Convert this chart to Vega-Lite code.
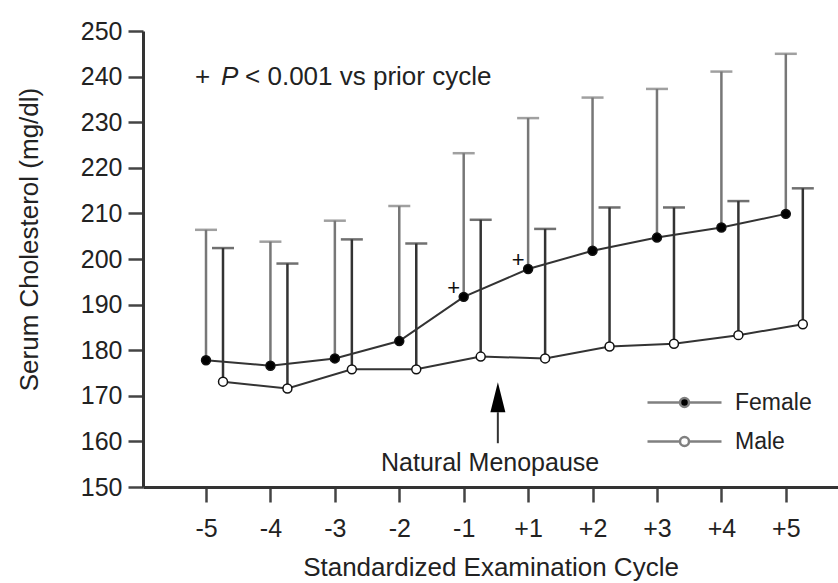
{
  "$schema": "https://vega.github.io/schema/vega-lite/v6.json",
  "width": 695,
  "height": 456,
  "autosize": {"type": "none"},
  "padding": {"left": 143, "top": 31, "right": 0, "bottom": 96},
  "background": "white",
  "config": {
    "view": {"stroke": null},
    "font": "Liberation Sans",
    "axis": {"grid": false, "domainColor": "#333", "domainWidth": 3, "tickColor": "#444", "tickWidth": 2.5, "tickSize": 15, "labelFontSize": 25, "labelColor": "#222", "titleFontSize": 26, "titleFontWeight": "normal", "titleColor": "#222"}
  },
  "datasets": {
    "chol": [
      {"pos": 1, "sex": "Female", "mean": 177.8, "upper": 206.4, "sig": false},
      {"pos": 2, "sex": "Female", "mean": 176.6, "upper": 203.8, "sig": false},
      {"pos": 3, "sex": "Female", "mean": 178.2, "upper": 208.4, "sig": false},
      {"pos": 4, "sex": "Female", "mean": 182.0, "upper": 211.6, "sig": false},
      {"pos": 5, "sex": "Female", "mean": 191.7, "upper": 223.2, "sig": true},
      {"pos": 6, "sex": "Female", "mean": 197.8, "upper": 230.9, "sig": true},
      {"pos": 7, "sex": "Female", "mean": 201.8, "upper": 235.4, "sig": false},
      {"pos": 8, "sex": "Female", "mean": 204.7, "upper": 237.3, "sig": false},
      {"pos": 9, "sex": "Female", "mean": 206.9, "upper": 241.1, "sig": false},
      {"pos": 10, "sex": "Female", "mean": 209.9, "upper": 245.0, "sig": false},
      {"pos": 1, "sex": "Male", "mean": 173.1, "upper": 202.4, "sig": false},
      {"pos": 2, "sex": "Male", "mean": 171.6, "upper": 199.0, "sig": false},
      {"pos": 3, "sex": "Male", "mean": 175.8, "upper": 204.3, "sig": false},
      {"pos": 4, "sex": "Male", "mean": 175.8, "upper": 203.4, "sig": false},
      {"pos": 5, "sex": "Male", "mean": 178.6, "upper": 208.6, "sig": false},
      {"pos": 6, "sex": "Male", "mean": 178.2, "upper": 206.6, "sig": false},
      {"pos": 7, "sex": "Male", "mean": 180.8, "upper": 211.3, "sig": false},
      {"pos": 8, "sex": "Male", "mean": 181.4, "upper": 211.3, "sig": false},
      {"pos": 9, "sex": "Male", "mean": 183.3, "upper": 212.7, "sig": false},
      {"pos": 10, "sex": "Male", "mean": 185.7, "upper": 215.5, "sig": false}
    ],
    "arrow": [{"pos": 5.53, "from": 159.6, "to": 166.4, "head": 169.7}],
    "notes": [
      {"pos": 5.41, "y": 155.3, "text": "Natural Menopause"}
    ],
    "key": [{"pos": 0.83, "y": 239.9}]
  },
  "encoding": {
    "x": {"field": "pos", "type": "quantitative",
          "scale": {"domain": [0.022, 10.81], "nice": false, "zero": false},
          "axis": {"title": "Standardized Examination Cycle", "values": [1,2,3,4,5,6,7,8,9,10],
                   "labelExpr": "datum.value <= 5 ? '-' + (6 - datum.value) : '+' + (datum.value - 5)",
                   "labelPadding": 14, "titlePadding": 13, "labelFlush": false}}
  },
  "layer": [
    {
      "data": {"name": "chol"},
      "transform": [{"filter": "datum.sex === 'Female'"}],
      "mark": {"type": "line", "color": "#333", "strokeWidth": 2},
      "encoding": {
        "y": {"field": "mean", "type": "quantitative",
              "scale": {"domain": [150, 250], "nice": false, "zero": false},
              "axis": {"title": "Serum Cholesterol (mg/dl)", "values": [150,160,170,180,190,200,210,220,230,240,250],
                       "labelPadding": 6, "titlePadding": 38, "titleY": 208}}
      }
    },
    {
      "data": {"name": "chol"},
      "transform": [{"filter": "datum.sex === 'Male'"}],
      "mark": {"type": "line", "color": "#333", "strokeWidth": 2, "xOffset": 17},
      "encoding": {
        "y": {"field": "mean", "type": "quantitative", "title": "Serum Cholesterol (mg/dl)"}
      }
    },
    {
      "data": {"name": "chol"},
      "transform": [{"filter": "datum.sex === 'Female'"}],
      "mark": {"type": "rule", "color": "#777", "strokeWidth": 2.5},
      "encoding": {
        "y": {"field": "mean", "type": "quantitative", "title": "Serum Cholesterol (mg/dl)"},
        "y2": {"field": "upper"}
      }
    },
    {
      "data": {"name": "chol"},
      "transform": [{"filter": "datum.sex === 'Female'"}],
      "mark": {"type": "tick", "orient": "horizontal", "size": 22, "thickness": 2.5, "color": "#777"},
      "encoding": {
        "y": {"field": "upper", "type": "quantitative", "title": "Serum Cholesterol (mg/dl)"}
      }
    },
    {
      "data": {"name": "chol"},
      "transform": [{"filter": "datum.sex === 'Male'"}],
      "mark": {"type": "rule", "color": "#333", "strokeWidth": 2.5, "xOffset": 17},
      "encoding": {
        "y": {"field": "mean", "type": "quantitative", "title": "Serum Cholesterol (mg/dl)"},
        "y2": {"field": "upper"}
      }
    },
    {
      "data": {"name": "chol"},
      "transform": [{"filter": "datum.sex === 'Male'"}],
      "mark": {"type": "tick", "orient": "horizontal", "size": 22, "thickness": 2.5, "color": "#333", "xOffset": 17},
      "encoding": {
        "y": {"field": "upper", "type": "quantitative", "title": "Serum Cholesterol (mg/dl)"}
      }
    },
    {
      "data": {"name": "chol"},
      "transform": [{"filter": "datum.sex === 'Female'"}],
      "mark": {"type": "point", "shape": "circle", "size": 80, "filled": true, "stroke": "#111", "strokeWidth": 1.5, "opacity": 1},
      "encoding": {
        "y": {"field": "mean", "type": "quantitative", "title": "Serum Cholesterol (mg/dl)"},
        "fill": {"field": "sex", "type": "nominal",
                 "scale": {"domain": ["Female", "Male"], "range": ["#000000", "#ffffff"]},
                 "legend": {"orient": "none", "legendX": 530, "legendY": 360, "title": null,
                            "symbolType": "M-7.4,0H-0.9M0.9,0H7.4M0.9,0A0.9,0.9,0,1,0,-0.9,0A0.9,0.9,0,1,0,0.9,0Z",
                            "symbolSize": 100, "symbolStrokeColor": "#777", "symbolStrokeWidth": 2,
                            "symbolOpacity": 1, "labelFontSize": 23, "labelColor": "#222",
                            "labelOffset": 39, "rowPadding": 15, "padding": 0,
                            "encode": {"symbols": {"update": {"stroke": {"value": "#808080"}, "strokeWidth": {"value": 2.5}}}}}}
      }
    },
    {
      "data": {"name": "chol"},
      "transform": [{"filter": "datum.sex === 'Male'"}],
      "mark": {"type": "point", "shape": "circle", "size": 80, "filled": true, "stroke": "#111", "strokeWidth": 1.5, "opacity": 1, "xOffset": 17},
      "encoding": {
        "y": {"field": "mean", "type": "quantitative", "title": "Serum Cholesterol (mg/dl)"},
        "fill": {"field": "sex", "type": "nominal",
                 "scale": {"domain": ["Female", "Male"], "range": ["#000000", "#ffffff"]}}
      }
    },
    {
      "data": {"name": "chol"},
      "transform": [{"filter": "datum.sig"}],
      "mark": {"type": "text", "text": "+", "fontSize": 22, "color": "#111", "dx": -10, "dy": -9, "align": "center", "baseline": "middle"},
      "encoding": {
        "y": {"field": "mean", "type": "quantitative", "title": "Serum Cholesterol (mg/dl)"}
      }
    },
    {
      "data": {"name": "arrow"},
      "mark": {"type": "rule", "color": "#333", "strokeWidth": 2},
      "encoding": {
        "y": {"field": "from", "type": "quantitative", "title": "Serum Cholesterol (mg/dl)"},
        "y2": {"field": "to"}
      }
    },
    {
      "data": {"name": "arrow"},
      "mark": {"type": "point", "shape": "M0,-1L0.5,1L-0.5,1Z", "size": 900, "filled": true, "color": "#000", "opacity": 1},
      "encoding": {
        "y": {"field": "head", "type": "quantitative", "title": "Serum Cholesterol (mg/dl)"}
      }
    },
    {
      "data": {"name": "notes"},
      "mark": {"type": "text", "fontSize": 25, "color": "#222", "align": "center", "baseline": "middle"},
      "encoding": {
        "y": {"field": "y", "type": "quantitative", "title": "Serum Cholesterol (mg/dl)"},
        "text": {"field": "text"}
      }
    },
    {
      "data": {"name": "key"},
      "mark": {"type": "text", "text": "+", "fontSize": 26, "color": "#222", "align": "left", "baseline": "middle"},
      "encoding": {
        "y": {"field": "y", "type": "quantitative", "title": "Serum Cholesterol (mg/dl)"}
      }
    },
    {
      "data": {"name": "key"},
      "mark": {"type": "text", "text": "P", "fontSize": 26, "fontStyle": "italic", "color": "#222", "align": "left", "baseline": "middle", "dx": 26},
      "encoding": {
        "y": {"field": "y", "type": "quantitative", "title": "Serum Cholesterol (mg/dl)"}
      }
    },
    {
      "data": {"name": "key"},
      "mark": {"type": "text", "text": "< 0.001 vs prior cycle", "fontSize": 26, "color": "#222", "align": "left", "baseline": "middle", "dx": 50},
      "encoding": {
        "y": {"field": "y", "type": "quantitative", "title": "Serum Cholesterol (mg/dl)"}
      }
    }
  ]
}
